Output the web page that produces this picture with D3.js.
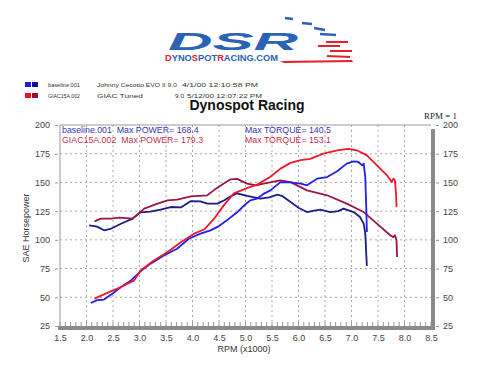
<!DOCTYPE html>
<html>
<head>
<meta charset="utf-8">
<script src="https://cdn.jsdelivr.net/npm/d3@7"></script>
<style>
  body { margin: 0; background: #fff; }
  svg { display: block; font-family: "Liberation Sans", Arial, sans-serif; }
  text { white-space: pre; }
</style>
</head>
<body>
<div id="chart"></div>
<script>
// RPM in thousands, values in SAE horsepower / lb-ft
var basePowerRpm = [2.08, 2.2, 2.33, 2.5, 2.65, 2.84, 3.02, 3.21, 3.46, 3.71, 3.93, 4.15, 4.34, 4.5, 4.65, 4.84, 5.0, 5.09, 5.22, 5.34, 5.47, 5.66, 5.85, 6.04, 6.16, 6.35, 6.54, 6.73, 6.91, 7.04, 7.13, 7.2, 7.23, 7.26, 7.28, 7.29];
var basePower    = [45, 47.5, 48, 53.5, 58.9, 64.7, 72.6, 79.3, 86.5, 92.3, 101, 105.4, 108.3, 112, 117, 124, 131, 134.4, 136, 140, 143.1, 150.3, 150, 149, 147.5, 153.3, 154.7, 159.7, 166.4, 168.4, 167.8, 164.9, 166.4, 154.7, 125.7, 106.8];

var baseTorqueRpm = [2.05, 2.2, 2.33, 2.45, 2.65, 2.87, 3.02, 3.2, 3.4, 3.59, 3.78, 3.97, 4.15, 4.28, 4.47, 4.6, 4.72, 4.84, 5.03, 5.28, 5.45, 5.6, 5.7, 5.85, 6.0, 6.16, 6.3, 6.41, 6.6, 6.75, 6.85, 7.04, 7.16, 7.23, 7.26, 7.29];
var baseTorque    = [112.6, 111.5, 108.3, 109.5, 114, 118.5, 124, 124.5, 126.3, 128.6, 128.2, 133.8, 133.5, 131.5, 131.5, 134.5, 138, 140.5, 138.2, 135.9, 137, 139.4, 138, 133, 128, 124.2, 125.5, 126.3, 124.2, 125, 127.2, 124.2, 119.9, 114.1, 105.4, 77.2];

var giacPowerRpm = [2.15, 2.33, 2.5, 2.65, 2.9, 3.02, 3.27, 3.53, 3.78, 4.03, 4.22, 4.4, 4.59, 4.78, 5.03, 5.22, 5.47, 5.66, 5.85, 6.04, 6.22, 6.47, 6.73, 6.94, 7.1, 7.29, 7.48, 7.67, 7.76, 7.79, 7.82, 7.84, 7.85];
var giacPower    = [48.8, 52.5, 56, 58.9, 64.7, 73.4, 82.1, 89.4, 98, 105.4, 109, 118, 130, 140.5, 145, 148.1, 155, 162, 167, 169.5, 170.5, 175.1, 178, 179.3, 178, 173.6, 164.9, 156.2, 150.4, 153.3, 151.8, 140.2, 128.6];

var giacTorqueRpm = [2.15, 2.27, 2.46, 2.62, 2.87, 3.09, 3.34, 3.53, 3.71, 3.97, 4.28, 4.4, 4.59, 4.72, 4.84, 5.03, 5.2, 5.34, 5.66, 5.85, 6.16, 6.54, 6.91, 7.23, 7.48, 7.73, 7.79, 7.82, 7.85, 7.86];
var giacTorque    = [116.1, 118.5, 118.5, 119.3, 118.5, 127.2, 131.5, 134.4, 135, 137.9, 138.8, 143.1, 149, 152.7, 153.1, 149, 147.5, 149, 151.8, 150.3, 143.1, 138.8, 131.5, 124.2, 114.1, 104, 102.4, 104, 99.6, 85];

var xTicks = [1.5, 2.0, 2.5, 3.0, 3.5, 4.0, 4.5, 5.0, 5.5, 6.0, 6.5, 7.0, 7.5, 8.0, 8.5];
var yTicks = [25, 50, 75, 100, 125, 150, 175, 200];

var runs = ["baseline.001", "GIAC15A.002"];
var maxPower = [168.4, 179.3];
var maxTorque = [140.5, 153.1];

var width = 477, height = 379;
var plotLeft = 60, plotRight = 431, plotTop = 125, plotBottom = 326;

var svg = d3.select("#chart").append("svg")
    .attr("width", width)
    .attr("height", height);

// ---- logo ----
var logo = svg.append("g");
logo.append("text")
    .attr("x", 168).attr("y", 50)
    .attr("font-size", 24).attr("font-weight", "bold").attr("font-style", "italic")
    .attr("fill", "#2a62b6")
    .attr("textLength", 130).attr("lengthAdjust", "spacingAndGlyphs")
    .text("DSR");
var dash = [[285, 18, 293, 19], [302, 23, 312, 24], [314, 28, 325, 30], [320, 34, 336, 35]];
logo.selectAll(".bd").data(dash).enter().append("line")
    .attr("x1", function(d) { return d[0]; }).attr("y1", function(d) { return d[1]; })
    .attr("x2", function(d) { return d[2]; }).attr("y2", function(d) { return d[3]; })
    .attr("stroke", "#2a62b6").attr("stroke-width", 2.5);
var red = [[326, 42, 348, 42], [318, 46, 340, 46], [330, 51, 352, 51], [327, 56, 350, 57]];
logo.selectAll(".rd").data(red).enter().append("line")
    .attr("x1", function(d) { return d[0]; }).attr("y1", function(d) { return d[1]; })
    .attr("x2", function(d) { return d[2]; }).attr("y2", function(d) { return d[3]; })
    .attr("stroke", "#e8202e").attr("stroke-width", 2);
logo.append("path")
    .attr("d", "M280,61 L352,60 L353,62 L284,63 Z")
    .attr("fill", "#e8202e");
var url = logo.append("text")
    .attr("x", 165).attr("y", 61)
    .attr("font-size", 9.5).attr("font-weight", "bold")
    .attr("textLength", 113).attr("lengthAdjust", "spacingAndGlyphs");
[["D", "#e8202e"], ["YNO", "#2a62b6"], ["S", "#e8202e"], ["POT", "#2a62b6"], ["R", "#e8202e"], ["ACING.COM", "#2a62b6"]]
  .forEach(function(p) { url.append("tspan").attr("fill", p[1]).text(p[0]); });

// ---- legend ----
var legendRows = [
  { sw: ["#1a1aff", "#12128e"], parts: [[48, 32, "baseline.001"], [97, 80, "Johnny Cecotto EVO II 9.0"], [182, 76, "4/1/00 12:10:58 PM"]] },
  { sw: ["#ee1122", "#991122"], parts: [[48, 32, "GIAC15A.002"], [97, 46, "GIAC Tuned"], [175, 9, "9.0"], [187, 75, "5/12/00 12:07:22 PM"]] }
];
legendRows.forEach(function(row, i) {
  var yy = 82 + i * 11;
  row.sw.forEach(function(c, j) {
    svg.append("rect").attr("x", 25 + j * 7).attr("y", yy).attr("width", 6).attr("height", 5).attr("fill", c);
  });
  row.parts.forEach(function(p) {
    svg.append("text").attr("x", p[0]).attr("y", yy + 5)
        .attr("font-size", 5).attr("fill", "#333")
        .attr("textLength", p[1]).attr("lengthAdjust", "spacingAndGlyphs")
        .text(p[2]);
  });
});

svg.append("text")
    .attr("x", 247).attr("y", 110)
    .attr("text-anchor", "middle")
    .attr("font-size", 14).attr("font-weight", "bold")
    .attr("fill", "#111")
    .text("Dynospot Racing");

svg.append("text")
    .attr("x", 457).attr("y", 119)
    .attr("text-anchor", "end")
    .attr("font-family", "Liberation Serif, serif")
    .attr("font-size", 9).attr("fill", "#222")
    .text("RPM = 1");

// ---- scales ----
var x = d3.scaleLinear().domain([1.5, 8.5]).range([plotLeft, plotRight]);
var y = d3.scaleLinear().domain([25, 200]).range([plotBottom, plotTop]);

// grid
svg.append("g").selectAll("line")
    .data(xTicks.slice(1, -1))
    .enter().append("line")
    .attr("x1", function(d) { return x(d); }).attr("x2", function(d) { return x(d); })
    .attr("y1", plotTop).attr("y2", plotBottom)
    .attr("stroke", "#a8a8a8").attr("stroke-dasharray", "2,3");
svg.append("g").selectAll("line")
    .data(yTicks.slice(1, -1))
    .enter().append("line")
    .attr("x1", plotLeft).attr("x2", plotRight)
    .attr("y1", function(d) { return y(d); }).attr("y2", function(d) { return y(d); })
    .attr("stroke", "#a8a8a8").attr("stroke-dasharray", "2,3");

// minor ticks along bottom
svg.append("g").selectAll("line")
    .data(d3.range(15, 86).map(function(d) { return d / 10; }))
    .enter().append("line")
    .attr("x1", function(d) { return x(d); }).attr("x2", function(d) { return x(d); })
    .attr("y1", plotBottom - 4).attr("y2", plotBottom)
    .attr("stroke", "#999");

// frame: thin top/left, thick grey right/bottom
svg.append("line").attr("x1", plotLeft).attr("x2", plotRight).attr("y1", plotTop).attr("y2", plotTop).attr("stroke", "#999");
svg.append("line").attr("x1", plotLeft).attr("x2", plotLeft).attr("y1", plotTop).attr("y2", plotBottom).attr("stroke", "#999");
svg.append("rect").attr("x", plotLeft - 2).attr("y", plotBottom).attr("width", plotRight - plotLeft + 6).attr("height", 4).attr("fill", "#8a8a8a");
svg.append("rect").attr("x", plotRight).attr("y", plotTop + 4).attr("width", 4).attr("height", plotBottom - plotTop).attr("fill", "#8a8a8a");

// axes
var xAxis = svg.append("g")
    .attr("transform", "translate(0," + (plotBottom + 4) + ")")
    .call(d3.axisBottom(x).tickValues(xTicks).tickFormat(d3.format(".1f")).tickSize(0).tickPadding(5));
var yLeft = svg.append("g")
    .attr("transform", "translate(" + (plotLeft - 2) + ",0)")
    .call(d3.axisLeft(y).tickValues(yTicks).tickSize(3).tickPadding(5));
var yRight = svg.append("g")
    .attr("transform", "translate(" + (plotRight + 5) + ",0)")
    .call(d3.axisRight(y).tickValues(yTicks).tickSize(3).tickPadding(4));
[xAxis, yLeft, yRight].forEach(function(a) {
  a.select(".domain").remove();
  a.selectAll("line").attr("stroke", "#999");
  a.selectAll("text").attr("font-size", 9).attr("fill", "#444").attr("font-family", "Liberation Sans, Arial, sans-serif");
});

svg.append("text")
    .attr("x", 244).attr("y", 352)
    .attr("text-anchor", "middle")
    .attr("font-size", 9).attr("fill", "#333")
    .text("RPM (x1000)");
svg.append("text")
    .attr("transform", "translate(29,228) rotate(-90)")
    .attr("text-anchor", "middle")
    .attr("font-size", 9).attr("fill", "#333")
    .text("SAE Horsepower");

// ---- curves ----
var series = [
  { rpm: baseTorqueRpm, v: baseTorque, color: "#1c1c8c" },
  { rpm: giacTorqueRpm, v: giacTorque, color: "#9c1840" },
  { rpm: basePowerRpm, v: basePower, color: "#2020f0" },
  { rpm: giacPowerRpm, v: giacPower, color: "#ec1a2c" }
];
var line = d3.line()
    .x(function(d) { return x(d[0]); })
    .y(function(d) { return y(d[1]); });
svg.append("g").selectAll("path")
    .data(series)
    .enter().append("path")
    .attr("d", function(s) { return line(d3.zip(s.rpm, s.v)); })
    .attr("fill", "none")
    .attr("stroke", function(s) { return s.color; })
    .attr("stroke-width", 1.8)
    .attr("stroke-linejoin", "round");

// ---- annotations ----
var noteColor = ["#3434b4", "#c42f50"];
runs.forEach(function(r, i) {
  var yy = 133 + i * 9.5;
  svg.append("text").attr("x", 62).attr("y", yy)
      .attr("font-size", 8.8).attr("fill", noteColor[i])
      .text(r + "  Max POWER= " + maxPower[i].toFixed(1));
  svg.append("text").attr("x", 245).attr("y", yy)
      .attr("font-size", 8.8).attr("fill", noteColor[i])
      .text("Max TORQUE= " + maxTorque[i].toFixed(1));
});
</script>
</body>
</html>
